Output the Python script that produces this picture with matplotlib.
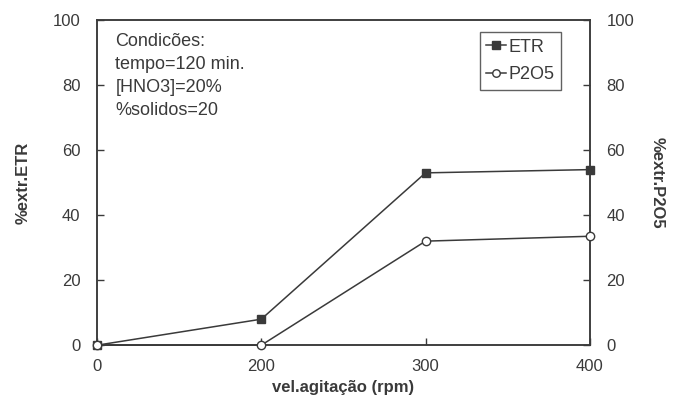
import matplotlib
matplotlib.use("Agg")
import matplotlib.pyplot as plt

plt.rcParams['font.family'] = ['Liberation Sans', 'DejaVu Sans']

# data
rpm_labels = ['0', '200', '300', '400']
etr = [0, 8, 53, 54]
p2o5 = [0, 0, 32, 33.5]

ink = '#3a3a3a'
pos = list(range(len(rpm_labels)))

fig = plt.figure(figsize=(6.74, 4.09), dpi=100)
ax = fig.add_axes([0.144, 0.156, 0.731, 0.795])
ax2 = ax.twinx()

l1, = ax.plot(pos, etr, color=ink, lw=1.1, marker='s', ms=6,
              mfc=ink, mec=ink, clip_on=False, zorder=5, label='ETR')
l2, = ax2.plot(pos, p2o5, color=ink, lw=1.1, marker='o', ms=6,
               mfc='white', mec=ink, clip_on=False, zorder=5, label='P2O5')

ax.set_xlim(0, 3)
ax.set_ylim(0, 100)
ax2.set_ylim(0, 100)
ax.set_xticks(pos)
ax.set_xticklabels(rpm_labels)
ax.set_yticks(range(0, 101, 20))
ax2.set_yticks(range(0, 101, 20))

for a in (ax, ax2):
    for s in a.spines.values():
        s.set_color(ink)
        s.set_linewidth(1.1)
    a.tick_params(direction='in', length=5, width=1, color=ink,
                  labelsize=12, labelcolor=ink)
ax.tick_params(axis='x', pad=10)
ax.tick_params(axis='y', pad=12)
ax2.tick_params(axis='y', pad=12)

ax.set_xlabel('vel.agitação (rpm)', fontsize=12, fontweight='bold',
              color=ink, labelpad=4)
ax.set_ylabel('%extr.ETR', fontsize=12, fontweight='bold',
              color=ink, labelpad=16)
ax2.set_ylabel('%extr.P2O5', fontsize=12, fontweight='bold',
               color=ink, rotation=270, labelpad=22)

ax.text(0.037, 0.96, 'Condicões:\ntempo=120 min.\n[HNO3]=20%\n%solidos=20',
        transform=ax.transAxes, ha='left', va='top', fontsize=13,
        color=ink, linespacing=1.45)

leg = ax2.legend(handles=[l1, l2], loc='upper right',
                 bbox_to_anchor=(0.96, 0.99), fontsize=13,
                 frameon=True, fancybox=False, handlelength=1.1,
                 handletextpad=0.15, borderpad=0.35, labelspacing=0.6,
                 labelcolor=ink, markerscale=0.9)
leg.get_frame().set_edgecolor(ink)
leg.get_frame().set_linewidth(1.0)

fig.savefig('out.png', dpi=100)
